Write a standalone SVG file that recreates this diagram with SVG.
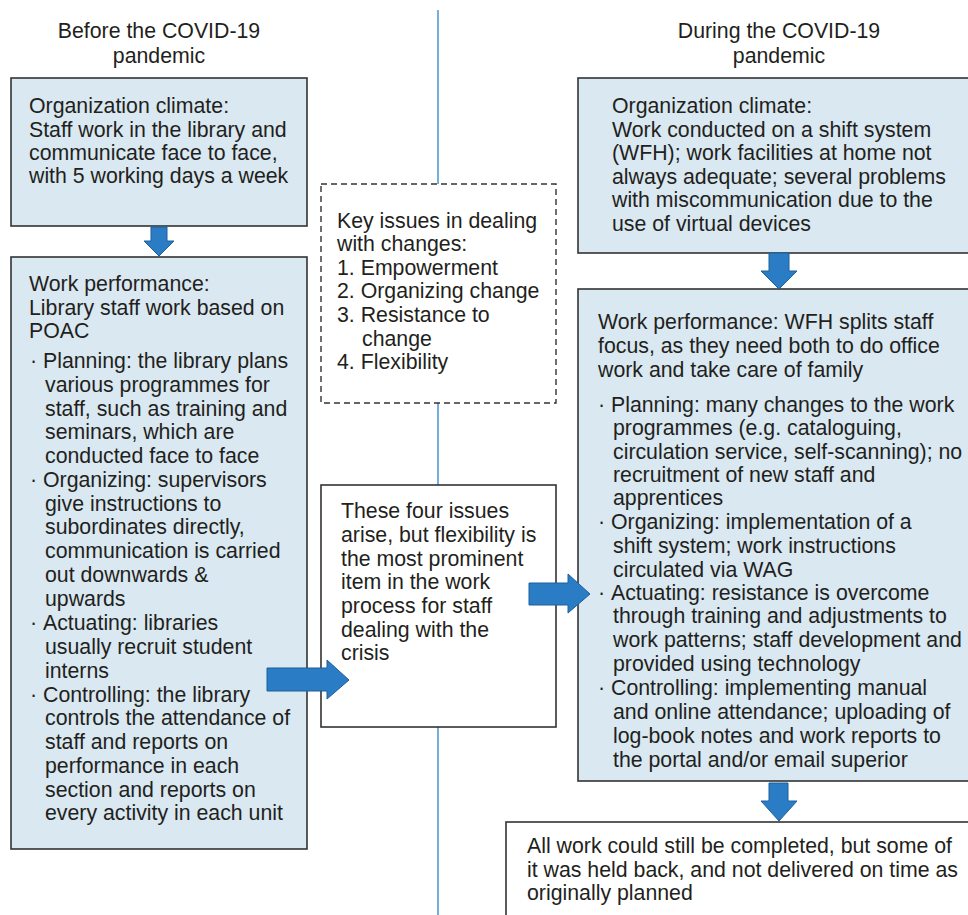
<svg xmlns="http://www.w3.org/2000/svg" width="968" height="915" viewBox="0 0 968 915">
<style>
text{font-family:"Liberation Sans",Arial,sans-serif;font-size:21.3px;fill:#231f20}
.blue{fill:#d9e8f1;stroke:#333;stroke-width:1.6}
.white{fill:#fff;stroke:#333;stroke-width:1.6}
.dash{fill:#fff;stroke:#333;stroke-width:1.4;stroke-dasharray:6,4}
.arr{fill:#2a7dc4;stroke:#1d5e9c;stroke-width:1}
.c{text-anchor:middle}
</style>
<g id="divider"><line x1="438" y1="10" x2="438" y2="915" stroke="#2b86c9" stroke-width="1.3"/></g>
<g id="header-before"><text class="c" x="159" y="38">Before the COVID-19</text><text class="c" x="159" y="63">pandemic</text></g>
<g id="header-during"><text class="c" x="779" y="38">During the COVID-19</text><text class="c" x="779" y="63">pandemic</text></g>
<g id="box-climate-before"><rect class="blue" x="11" y="78" width="296" height="148"/>
<text x="29" y="113">Organization climate:</text><text x="29" y="137">Staff work in the library and</text><text x="29" y="160">communicate face to face,</text><text x="29" y="183">with 5 working days a week</text></g>
<g id="box-performance-before"><rect class="blue" x="11" y="257" width="296" height="592"/>
<text x="29" y="291">Work performance:</text><text x="29" y="315">Library staff work based on</text><text x="29" y="338">POAC</text>
<text x="30" y="368">·</text><text x="43" y="368">Planning: the library plans</text>
<text x="45" y="392">various programmes for</text><text x="45" y="416">staff, such as training and</text><text x="45" y="439">seminars, which are</text><text x="45" y="463">conducted face to face</text>
<text x="30" y="487">·</text><text x="43" y="487">Organizing: supervisors</text>
<text x="45" y="511">give instructions to</text><text x="45" y="534">subordinates directly,</text><text x="45" y="558">communication is carried</text><text x="45" y="582">out downwards &amp;</text><text x="45" y="606">upwards</text>
<text x="30" y="630">·</text><text x="43" y="630">Actuating: libraries</text>
<text x="45" y="654">usually recruit student</text><text x="45" y="678">interns</text>
<text x="30" y="702">·</text><text x="43" y="702">Controlling: the library</text>
<text x="45" y="725">controls the attendance of</text><text x="45" y="749">staff and reports on</text><text x="45" y="773">performance in each</text><text x="45" y="797">section and reports on</text><text x="45" y="820">every activity in each unit</text></g>
<g id="box-key-issues"><rect class="dash" x="321" y="184" width="235" height="219"/>
<text x="337" y="228">Key issues in dealing</text><text x="337" y="251">with changes:</text><text x="337" y="275">1. Empowerment</text><text x="337" y="298">2. Organizing change</text><text x="337" y="322">3. Resistance to</text><text x="362" y="346">change</text><text x="337" y="369">4. Flexibility</text></g>
<g id="box-flexibility"><rect class="white" x="321" y="485" width="235" height="242"/>
<text x="341" y="518">These four issues</text><text x="341" y="542">arise, but flexibility is</text><text x="341" y="566">the most prominent</text><text x="341" y="589">item in the work</text><text x="341" y="613">process for staff</text><text x="341" y="637">dealing with the</text><text x="341" y="660">crisis</text></g>
<g id="box-climate-during"><rect class="blue" x="578" y="78" width="400" height="175"/>
<text x="612" y="113">Organization climate:</text><text x="612" y="137">Work conducted on a shift system</text><text x="612" y="160">(WFH); work facilities at home not</text><text x="612" y="184">always adequate; several problems</text><text x="612" y="207">with miscommunication due to the</text><text x="612" y="231">use of virtual devices</text></g>
<g id="box-performance-during"><rect class="blue" x="578" y="289" width="400" height="492"/>
<text x="598" y="329">Work performance: WFH splits staff</text><text x="598" y="353">focus, as they need both to do office</text><text x="598" y="377">work and take care of family</text>
<text x="598" y="412">·</text><text x="611" y="412">Planning: many changes to the work</text>
<text x="613" y="435">programmes (e.g. cataloguing,</text><text x="613" y="459">circulation service, self-scanning); no</text><text x="613" y="482">recruitment of new staff and</text><text x="613" y="505">apprentices</text>
<text x="598" y="529">·</text><text x="611" y="529">Organizing: implementation of a</text>
<text x="613" y="553">shift system; work instructions</text><text x="613" y="577">circulated via WAG</text>
<text x="598" y="600">·</text><text x="611" y="600">Actuating: resistance is overcome</text>
<text x="613" y="623">through training and adjustments to</text><text x="613" y="647">work patterns; staff development and</text><text x="613" y="671">provided using technology</text>
<text x="598" y="695">·</text><text x="611" y="695">Controlling: implementing manual</text>
<text x="613" y="719">and online attendance; uploading of</text><text x="613" y="743">log-book notes and work reports to</text><text x="613" y="767">the portal and/or email superior</text></g>
<g id="box-outcome"><rect class="white" x="506" y="822" width="480" height="110"/>
<text x="527" y="853">All work could still be completed, but some of</text><text x="527" y="877">it was held back, and not delivered on time as</text><text x="527" y="900">originally planned</text></g>
<g id="connectors">
<polygon class="arr" points="151,227 167,227 167,241 174,241 159,256 144,241 151,241"/>
<polygon class="arr" points="769,253 789,253 789,271 797,271 779,289 761,271 769,271"/>
<polygon class="arr" points="769,783 788,783 788,801 797,801 779,821 761,801 769,801"/>
<polygon class="arr" points="267,668 327,668 327,660 349,680 327,699 327,691 267,691"/>
<polygon class="arr" points="529,583 568,583 568,574 590,594 568,613 568,605 529,605"/>
</g>
</svg>
